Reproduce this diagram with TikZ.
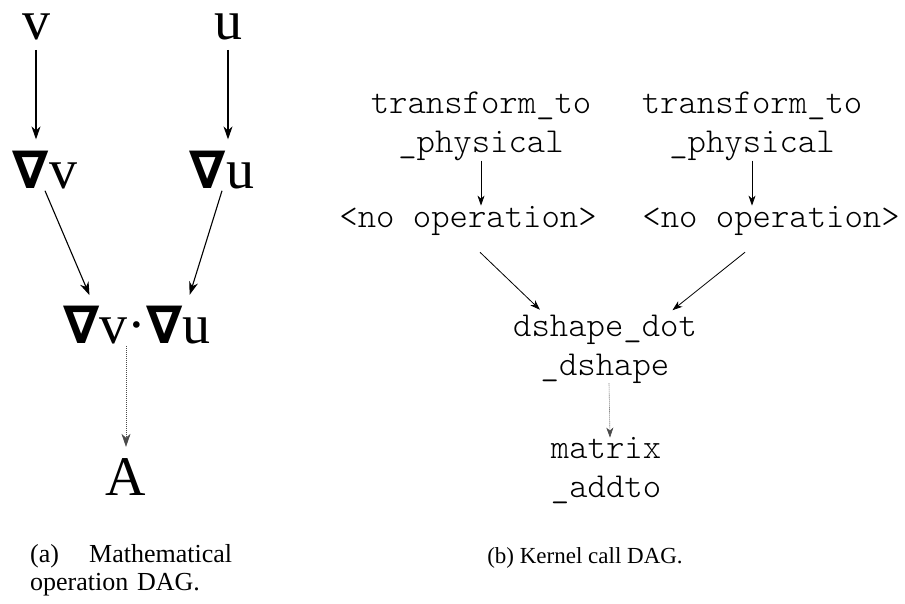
\documentclass[tikz,border=0pt]{standalone}
\usepackage{fontspec}
\setmainfont{Liberation Serif}
\setmonofont{lmmonolt10-regular}[Extension=.otf]
\newfontfamily\nablafont{DejaVu Sans}
\usetikzlibrary{arrows.meta}
\definecolor{DagInk}{HTML}{000000}
\definecolor{DagDots}{HTML}{4A4A4A}
\newcommand{\grad}{{\nablafont\bfseries\fontsize{52}{52}\selectfont ∇}}
\tikzset{
  mathlbl/.style={anchor=base,inner sep=2pt,text=DagInk,font=\fontsize{56}{60}\selectfont},
  codelbl/.style={align=center,inner sep=0pt,text=DagInk,font=\ttfamily\fontsize{35}{39}\selectfont},
  caplbl/.style={inner sep=0pt,text=DagInk,font=\fontsize{23}{28}\selectfont},
  matharr/.style={DagInk,line width=1.1pt,-{Stealth[length=13pt,width=9pt,inset=4pt]},shorten >=9pt},
  codearr/.style={DagInk,line width=0.8pt,-{Stealth[length=10pt,width=7pt,inset=3pt]}},
  dotline/.style={DagDots,line width=0.6pt,dash pattern=on 1pt off 1pt}
}

\begin{document}
\begin{tikzpicture}[x=1pt,y=-1pt]
  \useasboundingbox (0,0) rectangle (905,603);
  \node[mathlbl] (v) at (36,39) {v};
  \node[mathlbl] (u) at (228,39) {u};
  \node[mathlbl] (gv) at (45,188) {\grad v};
  \node[mathlbl] (gu) at (222,188) {\grad u};
  \node[mathlbl] (dot) at (137,343) {\grad v·\grad u};
  \node[mathlbl] (A) at (126,495) {A};
  \draw[matharr,shorten <=8pt] (v.south) -- (v.south |- gv.north);
  \draw[matharr,shorten <=8pt] (u.south) -- (u.south |- gu.north);
  \draw[matharr] (gv.south) -- ([xshift=-44pt]dot.north);
  \draw[matharr] (gu.south) -- ([xshift=50pt]dot.north);
  \draw[matharr,dotline,shorten <=0pt] (A.north |- dot.south) -- (A.north);

  \node[codelbl] (tp1) at (481,126) {transform\_to\\\_physical};
  \node[codelbl] (tp2) at (752,126) {transform\_to\\\_physical};
  \node[codelbl,anchor=base] (no1) at (468,227) {<no operation>};
  \node[codelbl,anchor=base] (no2) at (771,227) {<no operation>};
  \node[codelbl] (dd) at (605,349) {dshape\_dot\\\_dshape};
  \node[codelbl] (mx) at (606,471) {matrix\\\_addto};
  \draw[codearr] (tp1.south) -- (tp1.south |- no1.north);
  \draw[codearr] (tp2.south) -- (tp2.south |- no2.north);
  \draw[codearr,shorten >=7pt] ([xshift=12pt,yshift=-17pt]no1.south) -- ([xshift=-60pt]dd.north);
  \draw[codearr,shorten >=7pt] ([xshift=-26pt,yshift=-17pt]no2.south) -- ([xshift=62pt]dd.north);
  \draw[codearr,dotline] ([xshift=4pt]dd.south) -- ([xshift=4pt]mx.north);

  \node[caplbl,anchor=north west,text width=202pt,align=left,font=\fontsize{26}{28}\selectfont] (capa) at (30,544) {(a)\hspace{\stretch{1}}Mathematical\\operation DAG.};
  \node[caplbl,anchor=base] (capb) at (585,563) {(b) Kernel call DAG.};
\end{tikzpicture}
\end{document}
